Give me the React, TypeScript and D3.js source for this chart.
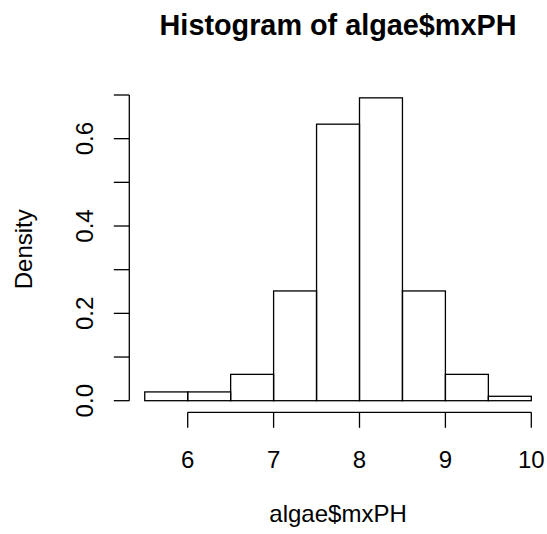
import React from "react";
import * as d3 from "d3";

// Histogram of algae$mxPH (density scale, bin width 0.5)
const binStarts = [5.5, 6.0, 6.5, 7.0, 7.5, 8.0, 8.5, 9.0, 9.5];
const binWidth = 0.5;
const densities = [0.0201, 0.0201, 0.0603, 0.2513, 0.6332, 0.6935, 0.2513, 0.0603, 0.0101];
const xTicks = [6, 7, 8, 9, 10];
const yTicks = [0, 0.1, 0.2, 0.3, 0.4, 0.5, 0.6, 0.7];
const yLabels = [0, 0.2, 0.4, 0.6];

const W = 547;
const H = 534;
const FONT = "'Liberation Sans', Arial, Helvetica, sans-serif";

export default function App() {
  const x = d3.scaleLinear().domain([6, 10]).range([187.7, 531.3]);
  const y = d3.scaleLinear().domain([0, 0.7]).range([400.7, 95]);
  const sw = 1.3;
  const axisY = 412.3;
  const axisX = 129.3;
  const tickLen = 15.5;
  const centerX = (x(5.32) + x(10.18)) / 2;
  const centerY = (y(-0.0277) + y(0.7212)) / 2;

  return (
    <svg
      width={W}
      height={H}
      style={{ position: "absolute", left: 0, top: 0, background: "#fff" }}
      fontFamily={FONT}
    >
      <rect x={0} y={0} width={W} height={H} fill="#fff" />
      {/* title */}
      <text x={centerX} y={35} textAnchor="middle" fontSize={28.8} fontWeight="bold">
        Histogram of algae$mxPH
      </text>

      {/* bars */}
      {binStarts.map((b, i) => (
        <rect
          key={i}
          x={x(b)}
          y={y(densities[i])}
          width={x(b + binWidth) - x(b)}
          height={y(0) - y(densities[i])}
          fill="none"
          stroke="#000"
          strokeWidth={sw}
        />
      ))}

      {/* x axis */}
      <line x1={x(xTicks[0])} x2={x(xTicks[xTicks.length - 1])} y1={axisY} y2={axisY} stroke="#000" strokeWidth={sw} />
      {xTicks.map((t) => (
        <g key={t}>
          <line x1={x(t)} x2={x(t)} y1={axisY} y2={axisY + tickLen} stroke="#000" strokeWidth={sw} />
          <text x={x(t)} y={467.5} textAnchor="middle" fontSize={24}>
            {t}
          </text>
        </g>
      ))}
      <text x={centerX} y={522} textAnchor="middle" fontSize={24}>
        algae$mxPH
      </text>

      {/* y axis */}
      <line x1={axisX} x2={axisX} y1={y(0)} y2={y(0.7)} stroke="#000" strokeWidth={sw} />
      {yTicks.map((t) => (
        <line key={t} x1={axisX - tickLen} x2={axisX} y1={y(t)} y2={y(t)} stroke="#000" strokeWidth={sw} />
      ))}
      {yLabels.map((t) => (
        <text
          key={t}
          transform={`translate(93, ${y(t)}) rotate(-90)`}
          textAnchor="middle"
          fontSize={24}
        >
          {t.toFixed(1)}
        </text>
      ))}
      <text transform={`translate(32, ${centerY}) rotate(-90)`} textAnchor="middle" fontSize={24}>
        Density
      </text>
    </svg>
  );
}
